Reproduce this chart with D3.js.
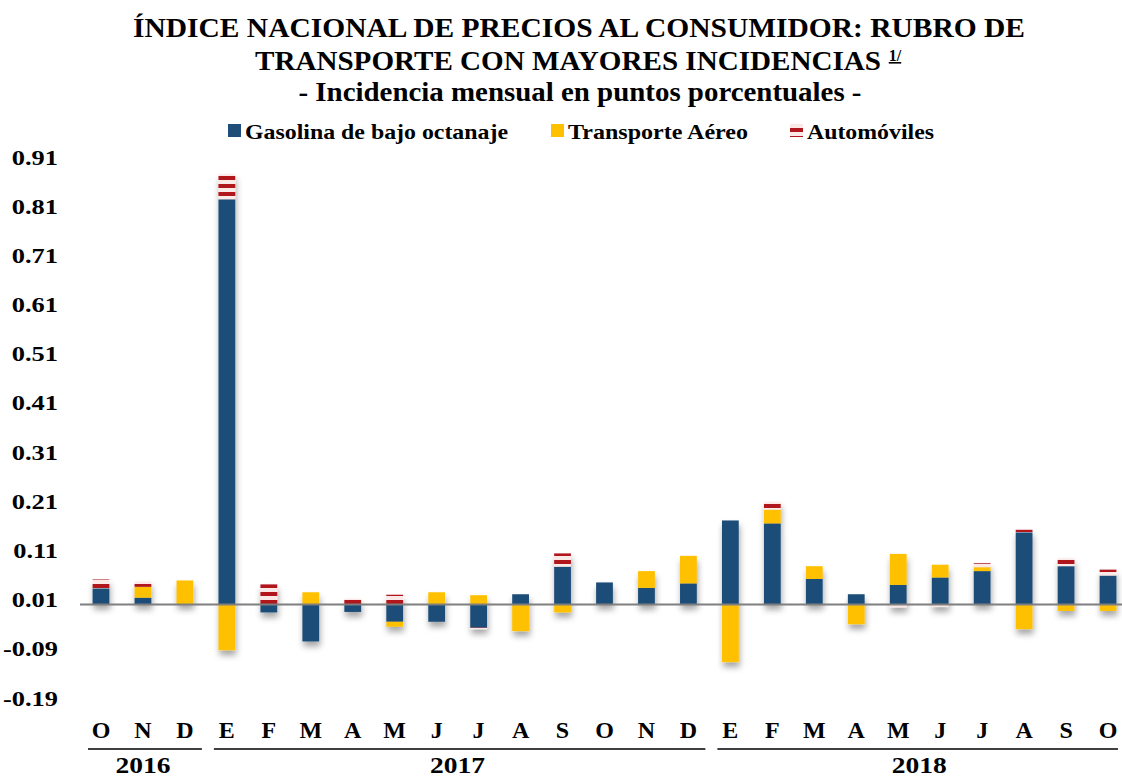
<!DOCTYPE html>
<html>
<head>
<meta charset="utf-8">
<script src="https://cdn.jsdelivr.net/npm/d3@7"></script>
<style>
    body { margin: 0; background: #fff; }
    text { font-family: "Liberation Serif", "Times New Roman", serif; font-weight: bold; fill: #000; }
</style>
</head>
<body>
<div id="chart"></div>
<script>
// Meses (etiquetas del eje x)
const months = ["O", "N", "D", "E", "F", "M", "A", "M", "J", "J", "A", "S", "O", "N", "D", "E", "F", "M", "A", "M", "J", "J", "A", "S", "O"];

// Incidencia mensual en puntos porcentuales
const gasolina = [0.033, 0.014, 0, 0.824, -0.016, -0.075, -0.015, -0.035, -0.035, -0.047, 0.021, 0.077, 0.045, 0.034, 0.043, 0.171, 0.165, 0.052, 0.021, 0.040, 0.055, 0.068, 0.147, 0.078, 0.059];
const aereo = [0, 0.022, 0.049, -0.093, 0, 0.025, 0, -0.010, 0.025, 0.019, -0.054, -0.016, 0, 0.034, 0.056, -0.117, 0.028, 0.026, -0.040, 0.063, 0.026, 0.008, -0.050, -0.013, -0.013];
const autos = [0.018, 0.011, 0, 0.051, 0.041, 0, 0.012, 0.020, 0, -0.003, 0, 0.027, 0, 0, 0, 0, 0.016, 0, 0, -0.006, -0.005, 0.008, 0.005, 0.016, 0.012];

const seriesNames = ["Gasolina de bajo octanaje", "Transporte Aéreo", "Automóviles"];

// Años y el rango de meses que abarcan
const years = ["2016", "2017", "2018"];
const yearFirst = [0, 3, 15];
const yearLast = [2, 14, 24];

const yTicks = [-0.19, -0.09, 0.01, 0.11, 0.21, 0.31, 0.41, 0.51, 0.61, 0.71, 0.81, 0.91];

const width = 1122,
    height = 780;

const svg = d3
    .select("#chart")
    .append("svg")
    .attr("width", width)
    .attr("height", height);

// Sombra de las barras
const defs = svg.append("defs");
defs.append("filter")
    .attr("id", "shadow")
    .attr("x", "-30%").attr("y", "-10%")
    .attr("width", "160%").attr("height", "130%")
    .append("feDropShadow")
    .attr("dx", 1)
    .attr("dy", 5)
    .attr("stdDeviation", 3)
    .attr("flood-color", "#000")
    .attr("flood-opacity", 0.35);

// Rayas para Automóviles
const pat = defs.append("pattern")
    .attr("id", "stripes")
    .attr("patternUnits", "userSpaceOnUse")
    .attr("width", 8).attr("height", 8);
pat.append("rect").attr("width", 8).attr("height", 8).attr("fill", "#fbe9e7");
pat.append("rect").attr("y", 0).attr("width", 8).attr("height", 4).attr("fill", "#b0171f");

const colors = ["#1f4e79", "#ffc000", "url(#stripes)"];

const x = d3
    .scaleBand()
    .domain(d3.range(months.length))
    .range([80, 1129])
    .paddingInner(0.6)
    .paddingOuter(0.3);

const y = d3
    .scaleLinear()
    .domain([-0.19, 0.91])
    .range([698, 157]);

// Titulo (el original está estirado a lo ancho)
const title = svg.append("g").attr("text-anchor", "middle");
title.append("text").attr("x", 579).attr("y", 37).attr("font-size", 27)
    .attr("textLength", 892).attr("lengthAdjust", "spacingAndGlyphs")
    .text("ÍNDICE NACIONAL DE PRECIOS AL CONSUMIDOR: RUBRO DE");
title.append("text").attr("x", 568).attr("y", 70).attr("font-size", 27)
    .attr("textLength", 626).attr("lengthAdjust", "spacingAndGlyphs")
    .text("TRANSPORTE CON MAYORES INCIDENCIAS");
title.append("text").attr("x", 895).attr("y", 61).attr("font-size", 16)
    .attr("text-decoration", "underline")
    .text("1/");
title.append("text").attr("x", 580).attr("y", 101).attr("font-size", 27)
    .attr("textLength", 563).attr("lengthAdjust", "spacingAndGlyphs")
    .text("- Incidencia mensual en puntos porcentuales -");

// Leyenda
const legendX = [228, 551, 790];
const legendW = [263, 180, 127];
const legend = svg.append("g");
seriesNames.forEach((name, i) => {
    legend.append("rect")
        .attr("x", legendX[i]).attr("y", 124)
        .attr("width", 13).attr("height", 13)
        .attr("fill", colors[i]);
    legend.append("text")
        .attr("x", legendX[i] + 17).attr("y", 139)
        .attr("font-size", 22)
        .attr("textLength", legendW[i]).attr("lengthAdjust", "spacingAndGlyphs")
        .text(name);
});

// Datos apilados (positivos y negativos por separado)
const table = months.map((m, i) => ({ i: i, g: gasolina[i], a: aereo[i], c: autos[i] }));
const stacked = d3
    .stack()
    .keys(["g", "a", "c"])
    .offset(d3.stackOffsetDiverging)(table);

const bars = svg.append("g").attr("filter", "url(#shadow)");
bars.selectAll("g")
    .data(stacked)
    .join("g")
    .attr("fill", (d, i) => colors[i])
    .selectAll("rect")
    .data((d) => d.filter((p) => p[1] !== p[0]))
    .join("rect")
    .attr("x", (d) => x(d.data.i))
    .attr("width", x.bandwidth())
    .attr("y", (d) => y(Math.max(d[0], d[1])))
    .attr("height", (d) => Math.abs(y(d[0]) - y(d[1])));

// Linea del cero
svg.append("line")
    .attr("x1", 80).attr("x2", 1122)
    .attr("y1", y(0)).attr("y2", y(0))
    .attr("stroke", "#7f7f7f")
    .attr("stroke-width", 2);

// Eje y (guion simple como en el original)
const yAxis = svg.append("g")
    .attr("transform", "translate(58,0) scale(1.2,1)")
    .call(
        d3.axisLeft(y)
            .tickValues(yTicks)
            .tickSize(0)
            .tickPadding(0)
            .tickFormat((d) => d3.format(".2f")(d).replace("\u2212", "-"))
    );
yAxis.select(".domain").remove();
yAxis.selectAll("text")
    .attr("font-size", 22)
    .attr("font-family", "Liberation Serif")
    .attr("font-weight", "bold");

// Eje x
const xLabels = svg.append("g").attr("text-anchor", "middle");
xLabels.selectAll("text")
    .data(months)
    .join("text")
    .attr("x", (d, i) => x(i) + x.bandwidth() / 2)
    .attr("y", 738)
    .attr("font-size", 24)
    .text((d) => d);

// Años
years.forEach((yr, k) => {
    const x0 = x(yearFirst[k]) - x.step() * 0.3 + 8;
    const x1 = x(yearLast[k]) + x.bandwidth() + x.step() * 0.3 - 4;
    svg.append("line")
        .attr("x1", x0).attr("x2", Math.min(x1, 1118))
        .attr("y1", 749).attr("y2", 749)
        .attr("stroke", "#000")
        .attr("stroke-width", 1.5);
    svg.append("text")
        .attr("x", (x(yearFirst[k]) + x(yearLast[k]) + x.bandwidth()) / 2)
        .attr("y", 773)
        .attr("text-anchor", "middle")
        .attr("font-size", 24)
        .attr("textLength", 55).attr("lengthAdjust", "spacingAndGlyphs")
        .text(yr);
});
</script>
</body>
</html>
